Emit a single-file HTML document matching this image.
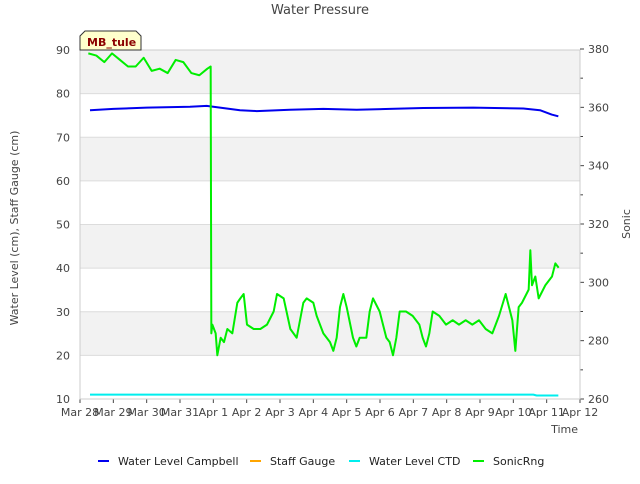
<!DOCTYPE html>
<html><head><meta charset="utf-8"><style>
body{margin:0;background:#fff;font-family:"DejaVu Sans","Liberation Sans",sans-serif;}
svg text{font-family:"DejaVu Sans","Liberation Sans",sans-serif;}
</style></head><body>
<svg id="c" width="640" height="480" xmlns="http://www.w3.org/2000/svg"></svg>
<script>
const dayLabels=["Mar 28","Mar 29","Mar 30","Mar 31","Apr 1","Apr 2","Apr 3","Apr 4","Apr 5","Apr 6","Apr 7","Apr 8","Apr 9","Apr 10","Apr 11","Apr 12"];
const leftTicks=[10,20,30,40,50,60,70,80,90];
const rightTicks=[260,280,300,320,340,360,380];
const campT=[0.3,1,2,3.3,3.8,4.8,5.3,6.3,7.3,8.3,9.3,10.3,11.8,13.3,13.8,14.15,14.35];
const campV=[76.2,76.5,76.8,77,77.2,76.2,76,76.3,76.5,76.3,76.5,76.7,76.8,76.6,76.2,75.2,74.8];
const ctdT=[0.3,13.6,13.7,14.35];
const ctdV=[11,11,10.8,10.8];
const sonicT=[0.25,0.49,0.73,0.96,1.2,1.44,1.67,1.91,2.15,2.39,2.63,2.87,3.1,3.34,3.58,3.82,3.92,3.94,3.97,4.07,4.12,4.22,4.32,4.42,4.57,4.72,4.81,4.91,5.01,5.21,5.41,5.61,5.81,5.91,6.11,6.31,6.5,6.7,6.8,7.0,7.1,7.3,7.5,7.6,7.7,7.8,7.9,8.0,8.19,8.29,8.39,8.59,8.69,8.79,8.99,9.19,9.29,9.39,9.49,9.59,9.78,9.98,10.18,10.28,10.38,10.48,10.58,10.78,10.98,11.18,11.37,11.57,11.77,11.97,12.17,12.37,12.57,12.77,12.97,13.06,13.16,13.26,13.46,13.51,13.56,13.66,13.76,13.96,14.16,14.26,14.36];
const sonicV=[378.5,377.75,375.5,378.5,376.25,374,374,377,372.5,373.25,371.75,376.25,375.5,371.75,371,373.25,374,282.5,285.5,282.5,275,281,279.5,284,282.5,293,294.5,296,285.5,284,284,285.5,290,296,294.5,284,281,293,294.5,293,288.5,282.5,279.5,276.5,281,291.5,296,291.5,281,278,281,281,290,294.5,290,281,279.5,275,281,290,290,288.5,285.5,281,278,282.5,290,288.5,285.5,287,285.5,287,285.5,287,284,282.5,288.5,296,287,276.5,291.5,293,297.5,311,299,302,294.5,299,302,306.5,305];
const NS="http://www.w3.org/2000/svg";
const svg=document.getElementById('c');
const X0=80,X1=580,Y0=399,Y1=50;
const x=d=>X0+(X1-X0)*d/15;
const yL=v=>Y0-(Y0-Y1)*(v-10)/80;
const yR=v=>Y0-(Y0-49)*(v-260)/120;
function el(t,a){const e=document.createElementNS(NS,t);for(const k in a)e.setAttribute(k,a[k]);svg.appendChild(e);return e;}
function tx(s,a){const e=el('text',a);e.textContent=s;return e;}
for(let v=10;v<90;v+=10){
  const b=el('rect',{x:X0,y:yL(v+10),width:X1-X0,height:yL(v)-yL(v+10),fill:((v/10)%2===0)?'#f2f2f2':'#ffffff'});
  
  
}
leftTicks.forEach(v=>{
  const g=el('line',{x1:X0,x2:X1,y1:yL(v),y2:yL(v),stroke:'#dcdcdc','stroke-width':1});
  
  
  const t=tx(v,{x:X0-10,y:yL(v)+4,'text-anchor':'end','font-size':11,fill:'#444'});
  
  
});
rightTicks.forEach(v=>{
  el('line',{x1:X1,x2:X1+4,y1:yR(v),y2:yR(v),stroke:'#444'});
  const t=tx(v,{x:X1+8,y:yR(v)+4,'font-size':11,fill:'#444'});
  
  
});
for(let v=270;v<380;v+=20)el('line',{x1:X1,x2:X1+3,y1:yR(v),y2:yR(v),stroke:'#444'});
dayLabels.forEach((s,i)=>{
  el('line',{x1:x(i),x2:x(i),y1:Y0,y2:Y0+4,stroke:'#444'});
  const t=tx(s,{x:x(i),y:Y0+17,'text-anchor':'middle','font-size':11,fill:'#444'});
  
  
});
el('rect',{x:X0,y:Y1,width:X1-X0,height:Y0-Y1,fill:'none',stroke:'#cccccc'});
function line(T,V,f,color,w,name){
  const p=el('polyline',{points:T.map((t,i)=>x(t)+','+f(V[i])).join(' '),fill:'none',stroke:color,'stroke-width':w,'stroke-linejoin':'round'});
  
  
}
line(campT,campV,yL,'#0000ee',2,'water-level-campbell-line');
line(ctdT,ctdV,yL,'#00eeee',2,'water-level-ctd-line');
line(sonicT,sonicV,yR,'#00ee00',2,'sonicrng-line');
const ti=tx('Water Pressure',{x:320,y:14,'text-anchor':'middle','font-size':13,fill:'#444'});


const yt=tx('Water Level (cm), Staff Gauge (cm)',{x:18,y:228,'text-anchor':'middle','font-size':11,fill:'#444',transform:'rotate(-90 18 228)'});


const yr=tx('Sonic',{x:630,y:224,'text-anchor':'middle','font-size':11,fill:'#444',transform:'rotate(-90 630 224)'});


const xt=tx('Time',{x:578,y:433,'text-anchor':'end','font-size':11,fill:'#444'});


const tag=el('path',{d:'M80,50 L80,36 L85,31 L136,31 L141,36 L141,50 Z',fill:'#ffffcc',stroke:'#333'});


const tt=tx('MB_tule',{x:87,y:46,'font-size':11,'font-weight':'bold',fill:'#8b0000'});


const legend=[['Water Level Campbell','#0000ee',98],['Staff Gauge','#ffa500',250],['Water Level CTD','#00eeee',349],['SonicRng','#00ee00',473]];
legend.forEach(l=>{
  const r=el('rect',{x:l[2],y:460,width:11,height:2,fill:l[1]});
  
  
  const t=tx(l[0],{x:l[2]+20,y:465,'font-size':11,fill:'#222'});
  
  
});
</script>
</body></html>
